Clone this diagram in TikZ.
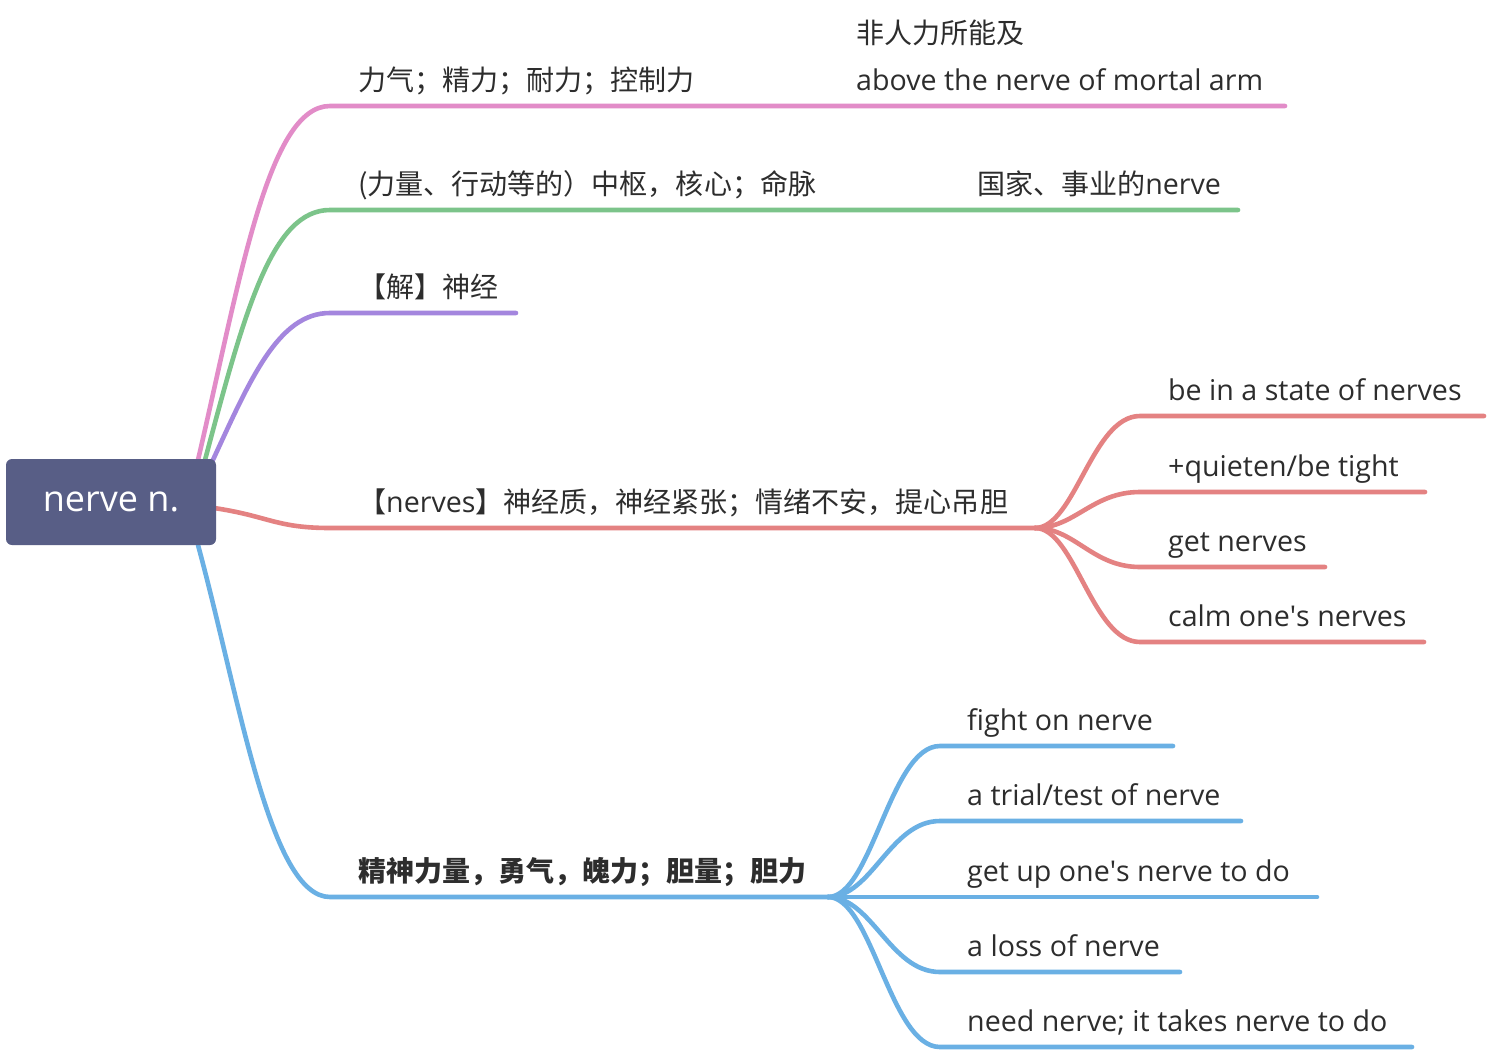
\documentclass[tikz,border=0pt]{standalone}
\usepackage{fontspec}
\setmainfont{Open Sans}
\newfontfamily\cjk{Noto Sans CJK SC}[Scale=0.98]
\definecolor{pinkc}{RGB}{226,140,200}
\definecolor{greenc}{RGB}{124,196,138}
\definecolor{purplec}{RGB}{164,134,222}
\definecolor{redc}{RGB}{228,130,130}
\definecolor{bluec}{RGB}{106,176,228}
\definecolor{rootc}{RGB}{88,94,134}
\definecolor{txtc}{RGB}{45,45,45}
\begin{document}
\begin{tikzpicture}[x=1pt,y=-1pt,
  br/.style={line width=4.6pt, line cap=round},
  lbl/.style={anchor=base west, inner sep=0pt, text=txtc, font=\fontsize{28.6}{34}\selectfont},
  rootbox/.style={fill=rootc, rounded corners=6pt, minimum width=210pt, minimum height=86pt, inner sep=0pt, text=white, font=\fontsize{36}{42}\selectfont}]
\useasboundingbox (0,0) rectangle (1488,1052);
\fill[white] (0,0) rectangle (1488,1052);

% branch points
\coordinate (pkS) at (198,460); \coordinate (pkA) at (330,106); \coordinate (pkE) at (1285,106);
\coordinate (gnS) at (205,460); \coordinate (gnA) at (330,210); \coordinate (gnE) at (1238,210);
\coordinate (puS) at (212,462); \coordinate (puA) at (330,313); \coordinate (puE) at (516,313);
\coordinate (rdS) at (214,508); \coordinate (rdA) at (330,528); \coordinate (rdH) at (1035,528);
\coordinate (blS) at (198,545); \coordinate (blA) at (330,897); \coordinate (blH) at (828,897);

% main branches
\draw[br, pinkc] (pkS) .. controls (240,280) and (268,106) .. (pkA) -- (pkE);
\draw[br, greenc] (gnS) .. controls (245,310) and (272,210) .. (gnA) -- (gnE);
\draw[br, purplec] (puS) .. controls (250,380) and (278,313) .. (puA) -- (puE);
\draw[br, redc] (rdS) .. controls (268,516) and (276,528) .. (rdA) -- (rdH);
\draw[br, bluec] (blS) .. controls (240,700) and (270,897) .. (blA) -- (blH);

% red children
\foreach \n/\y/\e in {r1/416/1484, r2/492/1425, r3/567/1325, r4/642/1424}{
  \coordinate (\n A) at (1140,\y); \coordinate (\n E) at (\e,\y);
  \draw[br, redc] (rdH) .. controls (1075,528) and (1092,\y) .. (\n A) -- (\n E);
}
% blue children
\foreach \n/\y/\e in {b1/746/1173, b2/821/1241, b3/897/1317, b4/972/1180, b5/1047/1412}{
  \coordinate (\n A) at (940,\y); \coordinate (\n E) at (\e,\y);
  \draw[br, bluec] (blH) .. controls (872,897) and (890,\y) .. (\n A) -- (\n E);
}

% root
\node[rootbox] (root) at (111,502) {nerve n.};

% labels
\node[lbl] (t1) at (358,90) {\cjk 力气；精力；耐力；控制力};
\node[lbl] (t1a) at (856,43) {\cjk 非人力所能及};
\node[lbl] (t1b) at (856,90) {above the nerve of mortal arm};
\node[lbl] (t2) at (358,194) {\cjk (力量、行动等的）中枢，核心；命脉};
\node[lbl] (t2a) at (977,194) {{\cjk 国家、事业的}nerve};
\node[lbl] (t3) at (358,297) {\cjk 【解】神经};
\node[lbl] (t4) at (358,512) {{\cjk 【}nerves{\cjk 】神经质，神经紧张；情绪不安，提心吊胆}};
\node[lbl] (t4a) at (1168,400) {be in a state of nerves};
\node[lbl] (t4b) at (1168,476) {+quieten/be tight};
\node[lbl] (t4c) at (1168,551) {get nerves};
\node[lbl] (t4d) at (1168,626) {calm one\textquotesingle s nerves};
\node[lbl] (t5) at (358,881) {\cjk\bfseries 精神力量，勇气，魄力；胆量；胆力};
\node[lbl] (t5a) at (967,730) {fight on nerve};
\node[lbl] (t5b) at (967,805) {a trial/test of nerve};
\node[lbl] (t5c) at (967,881) {get up one\textquotesingle s nerve to do};
\node[lbl] (t5d) at (967,956) {a loss of nerve};
\node[lbl] (t5e) at (967,1031) {need nerve; it takes nerve to do};
\end{tikzpicture}
\end{document}
